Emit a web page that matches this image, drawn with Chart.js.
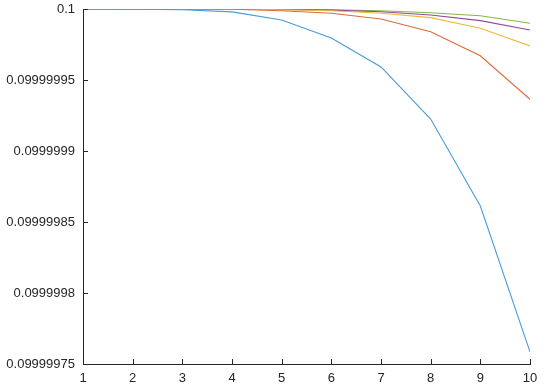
<!DOCTYPE html>
<html>
<head>
<meta charset="utf-8">
<script src="https://cdn.jsdelivr.net/npm/chart.js@4/dist/chart.umd.min.js"></script>
<style>
  body { margin: 0; background: #fff; }
  canvas { display: block; }
</style>
</head>
<body>
<canvas id="chart" width="550" height="387"></canvas>
<script>
const xValues = [1, 2, 3, 4, 5, 6, 7, 8, 9, 10];
const yTicks = [0.09999975, 0.0999998, 0.09999985, 0.0999999, 0.09999995, 0.1];
const yTickLabels = ["0.09999975", "0.0999998", "0.09999985", "0.0999999", "0.09999995", "0.1"];

const blue = [0.1, 0.0999999999, 0.0999999995, 0.099999998, 0.0999999923, 0.0999999796, 0.0999999592, 0.0999999225, 0.0999998613, 0.0999997585];
const orange = [0.1, 0.1, 0.1, 0.0999999998, 0.0999999988, 0.099999997, 0.099999993, 0.099999984, 0.0999999671, 0.0999999364];
const yellow = [0.1, 0.1, 0.1, 0.0999999999, 0.0999999995, 0.0999999988, 0.099999997, 0.0999999939, 0.0999999864, 0.099999974];
const purple = [0.1, 0.1, 0.1, 0.1, 0.0999999997, 0.0999999992, 0.0999999981, 0.0999999958, 0.0999999918, 0.0999999852];
const green = [0.1, 0.1, 0.1, 0.1, 0.0999999998, 0.0999999994, 0.0999999988, 0.0999999974, 0.0999999953, 0.09999999];

const axisColor = "#262626";

function toPoints(values) {
  return values.map((v, i) => ({ x: xValues[i], y: v }));
}

function line(values, color) {
  return {
    data: toPoints(values),
    borderColor: color,
    borderWidth: 1.1,
    pointRadius: 0,
    tension: 0,
    fill: false,
  };
}

// MATLAB style ticks point into the plot
const inwardTicks = {
  id: "inwardTicks",
  afterDraw(chart) {
    const ctx = chart.ctx;
    const area = chart.chartArea;
    const xs = chart.scales.x;
    const ys = chart.scales.y;
    ctx.save();
    ctx.strokeStyle = axisColor;
    ctx.lineWidth = 1;
    ctx.beginPath();
    xs.ticks.forEach((t) => {
      const px = Math.round(xs.getPixelForValue(t.value)) + 0.5;
      ctx.moveTo(px, area.bottom);
      ctx.lineTo(px, area.bottom - 5);
    });
    ys.ticks.forEach((t) => {
      const py = Math.round(ys.getPixelForValue(t.value)) + 0.5;
      ctx.moveTo(area.left, py);
      ctx.lineTo(area.left + 5, py);
    });
    ctx.stroke();
    ctx.restore();
  },
};

new Chart(document.getElementById("chart"), {
  type: "line",
  data: {
    datasets: [
      line(blue, "#4a9bd6"),
      line(orange, "#de6a3a"),
      line(yellow, "#eebb3c"),
      line(purple, "#8e4a9c"),
      line(green, "#86b54a"),
    ],
  },
  options: {
    responsive: false,
    animation: false,
    layout: { padding: { top: 9, right: 20, left: 0, bottom: 0 } },
    plugins: { legend: { display: false }, tooltip: { enabled: false } },
    scales: {
      x: {
        type: "linear",
        min: 1,
        max: 10,
        afterBuildTicks: (scale) => {
          scale.ticks = xValues.map((v) => ({ value: v }));
        },
        afterFit: (scale) => {
          scale.height = 23;
          scale.paddingLeft = 0;
          scale.paddingRight = 0;
        },
        grid: { drawOnChartArea: false, drawTicks: false },
        border: { color: axisColor, width: 1 },
        ticks: {
          padding: 7,
          color: axisColor,
          font: { family: "Liberation Sans", size: 13 },
          maxRotation: 0,
          autoSkip: false,
        },
      },
      y: {
        min: 0.09999975,
        max: 0.1,
        afterBuildTicks: (scale) => {
          scale.ticks = yTicks.map((v) => ({ value: v }));
        },
        afterFit: (scale) => {
          scale.width = 83;
          scale.paddingTop = 0;
          scale.paddingBottom = 0;
        },
        grid: { drawOnChartArea: false, drawTicks: false },
        border: { color: axisColor, width: 1 },
        ticks: {
          padding: 8,
          color: axisColor,
          font: { family: "Liberation Sans", size: 13 },
          callback: (value, index) => yTickLabels[index],
        },
      },
    },
  },
  plugins: [inwardTicks],
});
</script>
</body>
</html>
